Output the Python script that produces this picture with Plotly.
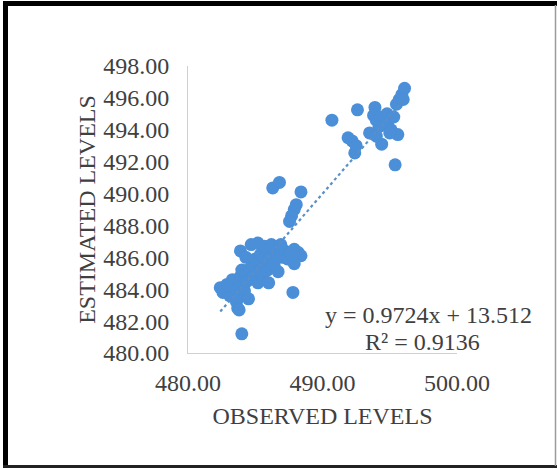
import plotly.graph_objects as go

# ---- data ----
observed = [
    # lower cluster
    482.4, 482.6, 482.9, 483.1, 483.3, 483.5, 483.6, 483.7, 483.8, 483.9,
    484.0, 484.1, 484.2, 484.3, 484.4, 484.5, 484.6, 484.7, 484.8, 484.9,
    485.0, 485.1, 485.2, 485.3, 485.4, 485.5, 485.6, 485.7, 485.8, 485.9,
    486.0, 486.1, 486.3, 486.4, 486.6, 486.7, 486.8, 487.0, 487.2, 487.4,
    487.6, 487.9, 488.2, 488.4, 487.9,
    483.9, 484.3, 484.7, 485.2, 485.7, 486.2, 486.9,
    484.0, 487.8, 483.8,
    # middle
    486.3, 486.8, 488.4, 488.05, 487.9, 487.7, 487.55,
    # upper cluster
    490.7, 492.6, 491.9, 492.2, 492.4, 492.5, 493.9, 493.8, 494.0, 494.3,
    494.2, 493.5, 494.0, 494.4, 494.6, 494.9, 495.1, 495.3, 495.6, 495.4,
    495.5, 495.7, 495.9, 496.1, 496.0, 494.8, 495.0,
]
estimated = [
    484.1, 483.8, 484.3, 483.6, 484.6, 484.0, 483.2, 482.8, 483.5, 484.8,
    485.2, 484.2, 483.9, 485.0, 484.5, 483.4, 485.3, 484.7, 485.6, 484.9,
    485.9, 485.1, 484.4, 485.6, 486.2, 485.3, 484.6, 485.9, 486.4, 485.2,
    484.4, 486.0, 486.5, 485.5, 486.2, 485.1, 486.6, 486.0, 486.4, 485.9,
    486.3, 486.5, 486.3, 486.1, 485.6,
    486.4, 486.0, 486.8, 486.9, 486.7, 486.8, 486.8,
    481.2, 483.8, 482.7,
    490.35, 490.7, 490.1, 489.3, 489.0, 488.6, 488.25,
    494.6, 495.25, 493.5, 493.3, 492.55, 493.0, 495.4, 494.9, 494.6, 494.8,
    494.2, 493.8, 493.6, 493.1, 494.3, 494.6, 494.0, 494.8, 493.7, 491.8,
    495.6, 495.9, 496.2, 496.6, 495.9, 495.0, 493.8,
]
slope = 0.9724
intercept = 13.512
r_squared = 0.9136

x_ticks = [480, 490, 500]
y_ticks = [480, 482, 484, 486, 488, 490, 492, 494, 496, 498]

# ---- layout constants ----
W, H = 557, 469
L, R, T, B = 188, 100, 66, 116
PW, PH = W - L - R, H - T - B
BLUE = "#4A8FD8"
TXT = "#404040"
FONT = "Liberation Serif"


def px(xp):
    return (xp - L) / PW


def py(yp):
    return (H - B - yp) / PH


x_min, x_max = min(observed), max(observed)
trend_x = [x_min, x_max]
trend_y = [slope * v + intercept for v in trend_x]

fig = go.Figure()
fig.add_trace(go.Scatter(
    x=observed, y=estimated, mode="markers",
    marker=dict(size=13, color=BLUE, line=dict(width=0)),
    showlegend=False, hoverinfo="x+y",
))
fig.add_trace(go.Scatter(
    x=trend_x, y=trend_y, mode="lines",
    line=dict(color="#5a8fc8", width=2.2, dash="dot"),
    showlegend=False, hoverinfo="skip",
))

axis_common = dict(
    showgrid=False, zeroline=False, showline=True,
    linecolor="#d0d0d0", linewidth=1, ticks="",
    tickfont=dict(family=FONT, size=24, color=TXT),
)

fig.update_xaxes(
    range=[480, 500], tickvals=x_ticks,
    ticktext=[f"{v:.2f}" for v in x_ticks],
    ticklabelstandoff=8,
    title=dict(text="OBSERVED LEVELS", font=dict(family=FONT, size=24, color=TXT), standoff=12),
    **axis_common,
)
fig.update_yaxes(
    range=[480, 498], tickvals=y_ticks,
    ticktext=[f"{v:.2f}" for v in y_ticks],
    ticklabelstandoff=13,
    title=dict(text="ESTIMATED LEVELS", font=dict(family=FONT, size=24, color=TXT), standoff=0),
    **axis_common,
)

fig.add_annotation(
    xref="paper", yref="paper", x=px(428), y=py(315),
    text=f"y = {slope}x + {intercept}", showarrow=False,
    font=dict(family=FONT, size=24, color=TXT), xanchor="center", yanchor="middle",
)
fig.add_annotation(
    xref="paper", yref="paper", x=px(422), y=py(342),
    text=f"R\u00b2 = {r_squared}", showarrow=False,
    font=dict(family=FONT, size=24, color=TXT), xanchor="center", yanchor="middle",
)

# outer frame
shapes = [
    dict(type="line", xref="paper", yref="paper", x0=px(5.5), x1=px(5.5), y0=py(1), y1=py(468),
         line=dict(color="black", width=5)),
    dict(type="line", xref="paper", yref="paper", x0=px(3), x1=px(557), y0=py(3.5), y1=py(3.5),
         line=dict(color="black", width=5)),
    dict(type="line", xref="paper", yref="paper", x0=px(3), x1=px(557), y0=py(466.5), y1=py(466.5),
         line=dict(color="#222222", width=3)),
    dict(type="line", xref="paper", yref="paper", x0=px(555.5), x1=px(555.5), y0=py(5), y1=py(466),
         line=dict(color="#9a9a9a", width=1.5)),
]
fig.update_layout(
    width=W, height=H,
    margin=dict(l=L, r=R, t=T, b=B, pad=0),
    paper_bgcolor="white", plot_bgcolor="white",
    shapes=shapes,
    showlegend=False,
)

fig.write_html(
    "out.html",
    config={"displayModeBar": False},
    post_script="document.body.style.margin='0';document.body.style.overflow='hidden';",
)
